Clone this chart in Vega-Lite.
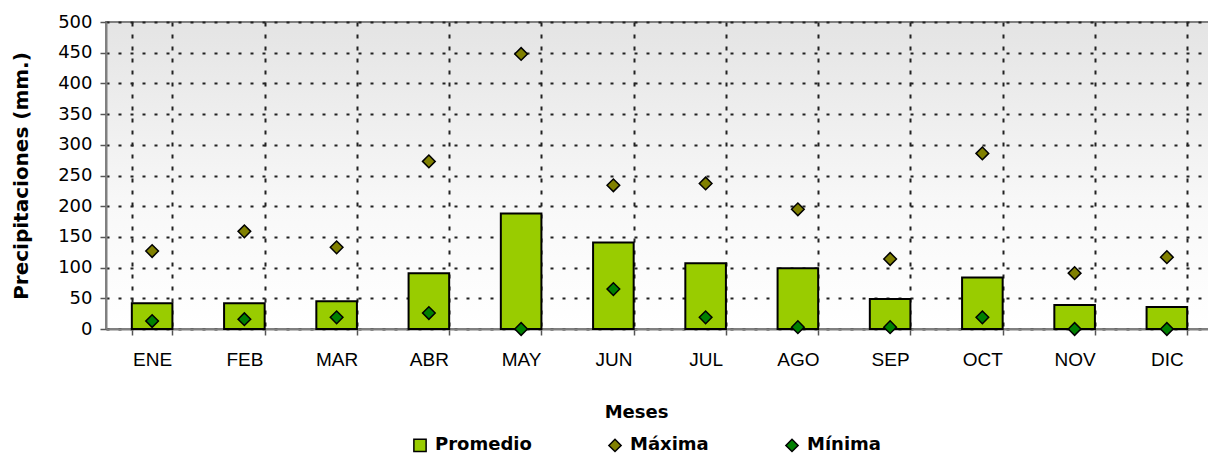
{
  "$schema": "https://vega.github.io/schema/vega-lite/v6.json",
  "autosize": "none",
  "width": 1107,
  "height": 307,
  "padding": {"left": 106, "top": 22, "right": 0, "bottom": 128},
  "background": "#ffffff",
  "config": {
    "font": "DejaVu Sans",
    "view": {
      "stroke": "#808080",
      "strokeWidth": 2,
      "fill": {"gradient": "linear", "x1": 0, "y1": 0, "x2": 0, "y2": 1, "stops": [{"offset": 0, "color": "#e4e4e4"}, {"offset": 0.6, "color": "#f8f8f8"}, {"offset": 1, "color": "#ffffff"}]}
    },
    "legend": {"symbolStrokeColor": "#000000", "symbolStrokeWidth": 1.5}
  },
  "data": {
    "values": [
      {"mes": "ENE", "serie": "Promedio", "valor": 42},
      {"mes": "FEB", "serie": "Promedio", "valor": 42},
      {"mes": "MAR", "serie": "Promedio", "valor": 45},
      {"mes": "ABR", "serie": "Promedio", "valor": 91},
      {"mes": "MAY", "serie": "Promedio", "valor": 188},
      {"mes": "JUN", "serie": "Promedio", "valor": 141},
      {"mes": "JUL", "serie": "Promedio", "valor": 107},
      {"mes": "AGO", "serie": "Promedio", "valor": 99},
      {"mes": "SEP", "serie": "Promedio", "valor": 49},
      {"mes": "OCT", "serie": "Promedio", "valor": 84},
      {"mes": "NOV", "serie": "Promedio", "valor": 39},
      {"mes": "DIC", "serie": "Promedio", "valor": 36},
      {"mes": "ENE", "serie": "Máxima", "valor": 127},
      {"mes": "FEB", "serie": "Máxima", "valor": 159},
      {"mes": "MAR", "serie": "Máxima", "valor": 133},
      {"mes": "ABR", "serie": "Máxima", "valor": 273},
      {"mes": "MAY", "serie": "Máxima", "valor": 448},
      {"mes": "JUN", "serie": "Máxima", "valor": 234},
      {"mes": "JUL", "serie": "Máxima", "valor": 237},
      {"mes": "AGO", "serie": "Máxima", "valor": 195},
      {"mes": "SEP", "serie": "Máxima", "valor": 114},
      {"mes": "OCT", "serie": "Máxima", "valor": 286},
      {"mes": "NOV", "serie": "Máxima", "valor": 91},
      {"mes": "DIC", "serie": "Máxima", "valor": 117},
      {"mes": "ENE", "serie": "Mínima", "valor": 13},
      {"mes": "FEB", "serie": "Mínima", "valor": 16},
      {"mes": "MAR", "serie": "Mínima", "valor": 19},
      {"mes": "ABR", "serie": "Mínima", "valor": 26},
      {"mes": "MAY", "serie": "Mínima", "valor": 0},
      {"mes": "JUN", "serie": "Mínima", "valor": 65},
      {"mes": "JUL", "serie": "Mínima", "valor": 19},
      {"mes": "AGO", "serie": "Mínima", "valor": 3},
      {"mes": "SEP", "serie": "Mínima", "valor": 3},
      {"mes": "OCT", "serie": "Mínima", "valor": 19},
      {"mes": "NOV", "serie": "Mínima", "valor": 0},
      {"mes": "DIC", "serie": "Mínima", "valor": 0}
    ]
  },
  "encoding": {
    "x": {
      "field": "mes",
      "type": "nominal",
      "sort": ["ENE","FEB","MAR","ABR","MAY","JUN","JUL","AGO","SEP","OCT","NOV","DIC"],
      "scale": {"paddingInner": 0.56, "paddingOuter": 0.28},
      "axis": {
        "title": "Meses",
        "titleFont": "DejaVu Sans",
        "titleFontSize": 18,
        "titleFontWeight": "bold",
        "titleColor": "#000000",
        "titlePadding": 34,
        "titleX": 530,
        "labelAngle": 0,
        "labelFont": "Liberation Sans",
        "labelFontSize": 19,
        "labelColor": "#000000",
        "labelPadding": 15,
        "tickBand": "extent",
        "tickSize": 6,
        "tickColor": "#555555",
        "tickWidth": 1.5,
        "domainColor": "#808080",
        "domainWidth": 2,
        "grid": true,
        "gridColor": "#222222",
        "gridDash": [4, 8],
        "gridWidth": 2
      }
    },
    "y": {
      "field": "valor",
      "type": "quantitative",
      "scale": {"domain": [0, 500], "nice": false},
      "axis": {
        "title": "Precipitaciones (mm.)",
        "titleFont": "DejaVu Sans",
        "titleFontSize": 20,
        "titleFontWeight": "bold",
        "titleColor": "#000000",
        "titlePadding": 26,
        "values": [0,50,100,150,200,250,300,350,400,450,500],
        "labelFont": "DejaVu Sans",
        "labelFontSize": 18,
        "labelColor": "#000000",
        "labelPadding": 8,
        "tickSize": 6,
        "tickColor": "#555555",
        "tickWidth": 1.5,
        "domainColor": "#808080",
        "domainWidth": 2,
        "grid": true,
        "gridColor": "#222222",
        "gridDash": [3, 9],
        "gridWidth": 2
      }
    },
    "color": {
      "field": "serie",
      "type": "nominal",
      "scale": {"domain": ["Promedio", "Máxima", "Mínima"], "range": ["#99cc00", "#808000", "#008000"]},
      "legend": {
        "title": null,
        "orient": "none",
        "legendX": 305,
        "legendY": 414,
        "direction": "horizontal",
        "columns": 3,
        "columnPadding": 73,
        "labelFont": "DejaVu Sans",
        "labelFontSize": 18,
        "labelFontWeight": "bold",
        "labelColor": "#000000",
        "symbolSize": 150,
        "labelOffset": 6
      }
    }
  },
  "layer": [
    {
      "transform": [{"filter": {"field": "serie", "equal": "Promedio"}}],
      "mark": {"type": "bar", "stroke": "#000000", "strokeWidth": 2}
    },
    {
      "transform": [{"filter": {"field": "serie", "oneOf": ["Máxima", "Mínima"]}}],
      "mark": {"type": "point", "filled": true, "stroke": "#000000", "strokeWidth": 1.5, "size": 160, "opacity": 1},
      "encoding": {
        "shape": {
          "field": "serie",
          "type": "nominal",
          "scale": {"domain": ["Promedio", "Máxima", "Mínima"], "range": ["square", "diamond", "diamond"]},
          "legend": {
            "title": null,
            "orient": "none",
            "legendX": 305,
            "legendY": 414,
            "direction": "horizontal",
            "columns": 3,
            "columnPadding": 73,
            "labelFont": "DejaVu Sans",
            "labelFontSize": 18,
            "labelFontWeight": "bold",
            "labelColor": "#000000",
            "symbolSize": 150,
            "labelOffset": 6
          }
        }
      }
    }
  ]
}
